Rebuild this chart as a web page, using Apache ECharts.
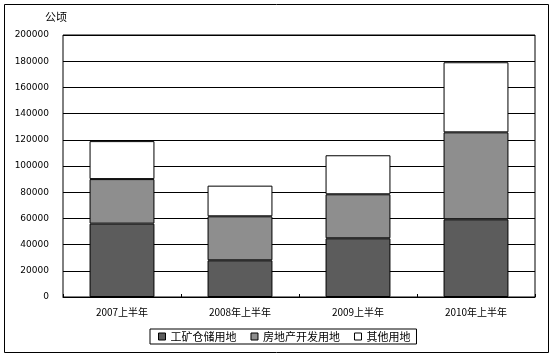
<!DOCTYPE html>
<html><head><meta charset="utf-8">
<script src="https://cdn.jsdelivr.net/npm/echarts@6/dist/echarts.min.js"></script>
<style>html,body{margin:0;padding:0;background:#fff}#c{width:555px;height:358px}</style>
</head><body><div id="c"></div>
<script>
const categories = ['2007上半年', '2008年上半年', '2009上半年', '2010年上半年'];
const industrial = [56000, 28000, 44800, 59300];
const realEstate = [34000, 33600, 33600, 66400];
const other = [29000, 23400, 29800, 53500];
const yTicks = [0, 20000, 40000, 60000, 80000, 100000, 120000, 140000, 160000, 180000, 200000];
const seriesNames = ['工矿仓储用地', '房地产开发用地', '其他用地'];
const unitLabel = '公顷';

const font = '"Noto Sans CJK SC", sans-serif';
const chart = echarts.init(document.getElementById('c'), null, {renderer: 'canvas'});
const barStyle = (color) => ({color: color, borderColor: '#000', borderWidth: 1});
chart.setOption({
  animation: false,
  backgroundColor: '#fff',
  graphic: [
    {type: 'rect', shape: {x: 4.5, y: 4.5, width: 544, height: 348}, style: {fill: 'none', stroke: '#000', lineWidth: 1}, z: 0},
    {type: 'text', left: 45, top: 11, style: {text: unitLabel, font: '11px ' + font, fill: '#000'}}
  ],
  grid: {left: 63, right: 20, top: 35, bottom: 61, show: true, borderColor: '#000', borderWidth: 1, backgroundColor: '#fff'},
  legend: {
    bottom: 14, left: 150,
    data: seriesNames,
    icon: 'rect', itemWidth: 7, itemHeight: 7, itemGap: 14,
    textStyle: {fontFamily: font, fontSize: 11, color: '#000'},
    borderColor: '#000', borderWidth: 1, padding: [2, 6, 2, 8],
    itemStyle: {borderColor: '#000', borderWidth: 1}
  },
  xAxis: {
    type: 'category', data: categories,
    axisLine: {show: true, lineStyle: {color: '#000'}},
    axisTick: {show: true, inside: true, length: 3, lineStyle: {color: '#000'}},
    axisLabel: {fontFamily: font, fontSize: 10, color: '#000', margin: 10}
  },
  yAxis: {
    type: 'value', min: 0, max: yTicks[yTicks.length - 1], interval: yTicks[1] - yTicks[0],
    axisLine: {show: false}, axisTick: {show: false},
    splitLine: {show: true, lineStyle: {color: '#000', width: 1}},
    axisLabel: {fontFamily: 'DejaVu Sans, sans-serif', fontSize: 9, color: '#000', margin: 14,
      formatter: (v) => String(v)}
  },
  series: [
    {name: seriesNames[0], type: 'bar', stack: 's', data: industrial, barWidth: '55%', itemStyle: barStyle('#5c5c5c')},
    {name: seriesNames[1], type: 'bar', stack: 's', data: realEstate, barWidth: '55%', itemStyle: barStyle('#8e8e8e')},
    {name: seriesNames[2], type: 'bar', stack: 's', data: other, barWidth: '55%', itemStyle: barStyle('#ffffff')}
  ]
});
</script></body></html>
